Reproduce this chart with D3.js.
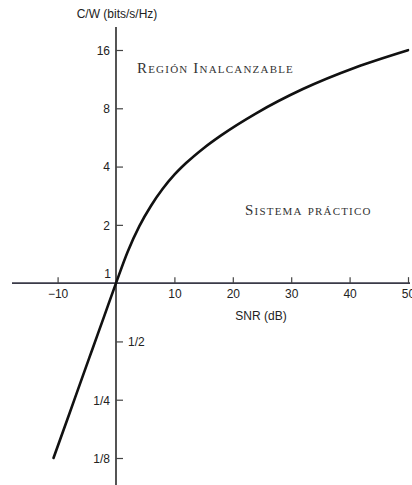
<!DOCTYPE html>
<html>
<head>
<meta charset="utf-8">
<script src="https://cdn.jsdelivr.net/npm/d3@7"></script>
<style>
  html, body { margin: 0; padding: 0; background: #fff; }
  svg { display: block; }
  .tick text { font-family: "Liberation Sans", Arial, sans-serif; font-size: 12px; fill: #222; }
  .lbl { font-family: "Liberation Sans", Arial, sans-serif; font-size: 12px; fill: #222; }
  .region { font-family: "Liberation Serif", "DejaVu Serif", serif; font-size: 15px; font-variant: small-caps; fill: #333; letter-spacing: 1.2px; }
</style>
</head>
<body>
<svg id="chart" width="412" height="485"></svg>
<script>
// Spectral efficiency C/W (bits/s/Hz) versus signal-to-noise ratio (dB)
const snrDb = [-10.7, -8, -6, -4, -2, 0, 2, 4, 6, 8, 10, 12, 15, 18, 24, 32, 41, 50];
const capacity = [0.125, 0.211, 0.312, 0.46, 0.678, 1.0, 1.454, 1.97, 2.51, 3.07, 3.63, 4.17, 4.98, 5.80, 7.54, 10.06, 13.0, 15.97];

const xTicks = [-10, 10, 20, 30, 40, 50];
const yTicks = [1/8, 1/4, 1/2, 1, 2, 4, 8, 16];
const yTickLabels = ["1/8", "1/4", "1/2", "1", "2", "4", "8", "16"];

const svg = d3.select("#chart");

const x = d3.scaleLinear().domain([-10, 50]).range([57.6, 408]);
const y = d3.scaleLog().base(2).domain([1/8, 16]).range([458, 50]);

const x0 = x(0), y0 = y(1);

// Axis lines crossing at (0 dB, 1)
svg.append("line")
  .attr("x1", 12).attr("x2", 410).attr("y1", y0).attr("y2", y0)
  .attr("stroke", "#3a3a48").attr("stroke-width", 1.6);
svg.append("line")
  .attr("x1", x0).attr("x2", x0).attr("y1", 27).attr("y2", 485)
  .attr("stroke", "#2a2a2a").attr("stroke-width", 1.6);

// Horizontal axis: ticks point up, labels sit below
const gx = svg.append("g")
  .attr("transform", `translate(0,${y0})`)
  .call(d3.axisTop(x).tickValues(xTicks).tickSize(6).tickFormat(d => d < 0 ? "\u2212" + Math.abs(d) : d));
gx.select(".domain").remove();
gx.selectAll(".tick line").attr("stroke", "#444").attr("stroke-width", 1.2);
gx.selectAll(".tick text").attr("y", 15).attr("dy", 0);

// Vertical axis: ticks point right, labels mostly on the left
const gy = svg.append("g")
  .attr("transform", `translate(${x0},0)`)
  .call(d3.axisRight(y).tickValues(yTicks.filter(v => v !== 1)).tickSize(7)
    .tickFormat(v => yTickLabels[yTicks.indexOf(v)]));
gy.select(".domain").remove();
gy.selectAll(".tick line").attr("stroke", "#444").attr("stroke-width", 1.2);
gy.selectAll(".tick text")
  .attr("dy", "0.36em")
  .each(function(v) {
    const t = d3.select(this);
    if (v === 1/2) { t.attr("x", 12).attr("text-anchor", "start"); }
    else { t.attr("x", -6).attr("text-anchor", "end"); }
  });

// Label for the crossing value 1
svg.append("text").attr("class", "lbl")
  .attr("x", x0 - 5).attr("y", y0 - 5).attr("text-anchor", "end").text("1");

// Axis titles
svg.append("text").attr("class", "lbl")
  .attr("x", x0 + 1).attr("y", 18).attr("text-anchor", "middle").text("C/W (bits/s/Hz)");
svg.append("text").attr("class", "lbl")
  .attr("x", 261).attr("y", 320).attr("text-anchor", "middle").text("SNR (dB)");

// Region annotations
svg.append("text").attr("class", "region")
  .attr("x", 137).attr("y", 73).text("Región Inalcanzable");
svg.append("text").attr("class", "region")
  .attr("x", 245).attr("y", 215).text("Sistema práctico");

// Capacity curve
const pts = snrDb.map((d, i) => [d, capacity[i]]);
svg.append("path")
  .datum(pts)
  .attr("fill", "none")
  .attr("stroke", "#111")
  .attr("stroke-width", 2.6)
  .attr("stroke-linecap", "round")
  .attr("d", d3.line().x(d => x(d[0])).y(d => y(d[1])).curve(d3.curveMonotoneX));
</script>
</body>
</html>
